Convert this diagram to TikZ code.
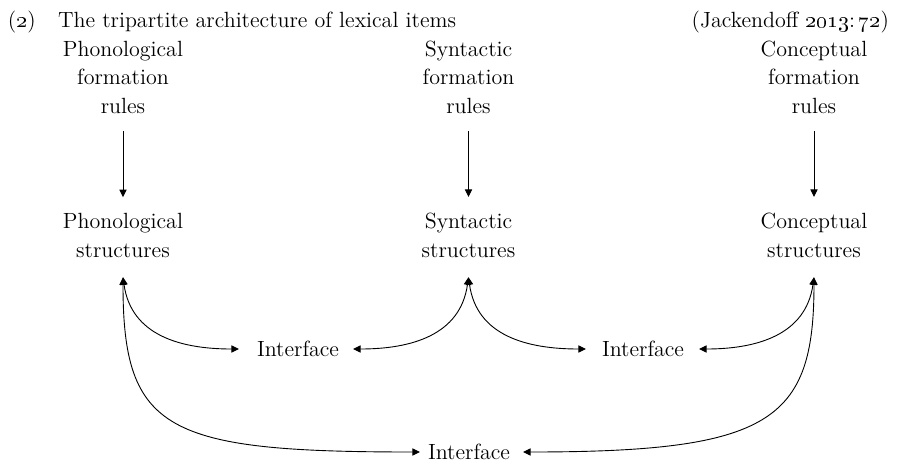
\documentclass[tikz,border=0pt]{standalone}
\usetikzlibrary{arrows.meta}
\begin{document}
\begin{tikzpicture}[x=0.5pt,y=0.5pt,
  every node/.style={font=\fontsize{11}{14.25}\selectfont, inner sep=0pt, outer sep=0pt},
  lbl/.style={align=center, anchor=base},
  conn/.style={line width=0.45pt, {Triangle[length=3.8pt,width=3.6pt]}-{Triangle[length=3.8pt,width=3.6pt]}},
  downarr/.style={line width=0.45pt, -{Triangle[length=3.8pt,width=3.6pt]}}]
\useasboundingbox (0,0) rectangle (902,-462);
% heading
\node[anchor=base west] (num) at (8,-27) {(\oldstylenums{2})};
\node[anchor=base west] (title) at (58,-27) {The tripartite architecture of lexical items};
\node[anchor=base east] (cite) at (889,-27) {(Jackendoff \oldstylenums{2013}:\,\oldstylenums{72})};
% formation rules
\node[lbl] (pfr) at (123,-113) {Phonological\\formation\\rules};
\node[lbl] (sfr) at (468.5,-113) {Syntactic\\formation\\rules};
\node[lbl] (cfr) at (814,-113) {Conceptual\\formation\\rules};
% structures
\node[lbl] (ps) at (123,-257) {Phonological\\structures};
\node[lbl] (ss) at (468.5,-257) {Syntactic\\structures};
\node[lbl] (cs) at (814,-257) {Conceptual\\structures};
% interfaces
\node (i1) at (298,-349) {Interface};
\node (i2) at (643,-349) {Interface};
\node (i3) at (469,-452) {Interface};
% vertical arrows
\draw[downarr] ([yshift=-9pt]pfr.south) -- ([yshift=8pt]ps.north);
\draw[downarr] ([yshift=-9pt]sfr.south) -- ([yshift=8pt]ss.north);
\draw[downarr] ([yshift=-9pt]cfr.south) -- ([yshift=8pt]cs.north);
% interface connectors
\draw[conn] ([yshift=-10pt]ps.south) to[out=-82,in=180,looseness=1.1] ([xshift=-9pt]i1.west);
\draw[conn] ([yshift=-10pt]ss.south) to[out=-98,in=0,looseness=1.1] ([xshift=7pt]i1.east);
\draw[conn] ([yshift=-10pt]ss.south) to[out=-82,in=180,looseness=1.1] ([xshift=-8pt]i2.west);
\draw[conn] ([yshift=-10pt]cs.south) to[out=-98,in=0,looseness=1.1] ([xshift=7.5pt]i2.east);
\draw[conn] ([yshift=-10pt]ps.south) to[out=-90,in=180,out distance=77pt,in distance=127pt] ([xshift=-4pt]i3.west);
\draw[conn] ([yshift=-10pt]cs.south) to[out=-90,in=0,out distance=72pt,in distance=124pt] ([xshift=6.5pt]i3.east);
\end{tikzpicture}
\end{document}
